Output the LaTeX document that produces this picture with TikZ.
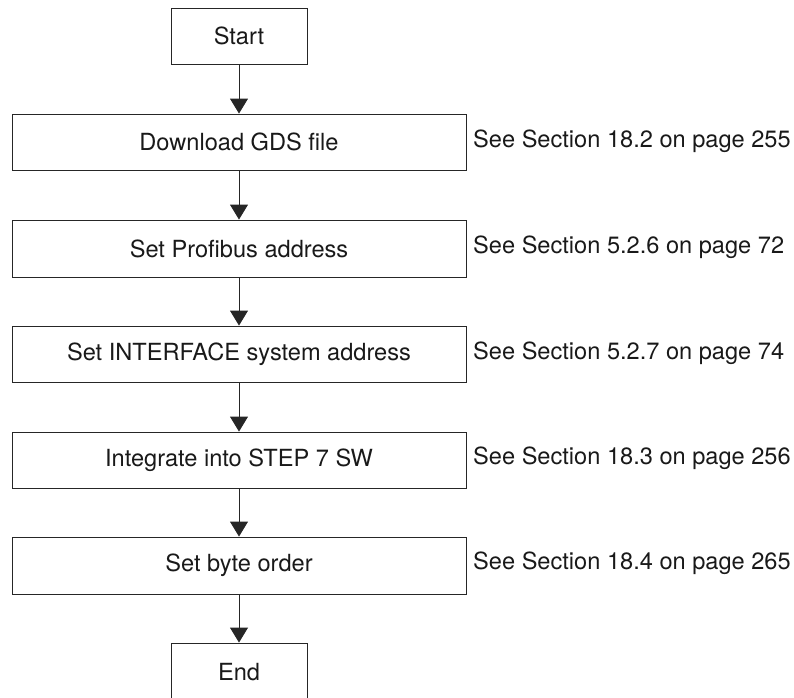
\documentclass[tikz,border=0pt]{standalone}
\usepackage{fontspec}
\setmainfont{TeX Gyre Heros}
\usetikzlibrary{arrows.meta}
\begin{document}
\begin{tikzpicture}[x=1pt,y=-1pt,
  stepbox/.style={draw=black!85, line width=0.9pt, rectangle, inner sep=0pt,
    minimum height=56pt, font=\fontsize{23.6}{28}\selectfont, text=black!90},
  ref/.style={anchor=west, inner sep=0pt, font=\fontsize{23.6}{28}\selectfont, text=black!90},
  flow/.style={draw=black!85, line width=0.9pt, -{Triangle[width=18pt,length=15pt]}}]
\clip (0,0) rectangle (794,697);
\node[stepbox, minimum width=136pt] (start) at (239,36) {Start};
\node[stepbox, minimum width=454pt] (dl) at (239,142) {Download GDS file};
\node[stepbox, minimum width=454pt, minimum height=57pt] (pb) at (239,248.5) {Set Profibus address};
\node[stepbox, minimum width=454pt] (if) at (239,354) {Set INTERFACE system address};
\node[stepbox, minimum width=454pt] (st) at (239,460) {Integrate into STEP 7 SW};
\node[stepbox, minimum width=454pt, minimum height=57pt] (bo) at (239,565.5) {Set byte order};
\node[stepbox, minimum width=136pt, minimum height=58pt] (end) at (239,672) {End};
\draw[flow] (start) -- (dl);
\draw[flow] (dl) -- (pb);
\draw[flow] (pb) -- (if);
\draw[flow] (if) -- (st);
\draw[flow] (st) -- (bo);
\draw[flow] (bo) -- (end);
\node[ref] (r1) at (473,141) {See Section 18.2 on page 255};
\node[ref] (r2) at (473,247) {See Section 5.2.6 on page 72};
\node[ref] (r3) at (473,353) {See Section 5.2.7 on page 74};
\node[ref] (r4) at (473,458) {See Section 18.3 on page 256};
\node[ref] (r5) at (473,563) {See Section 18.4 on page 265};
\end{tikzpicture}
\end{document}
